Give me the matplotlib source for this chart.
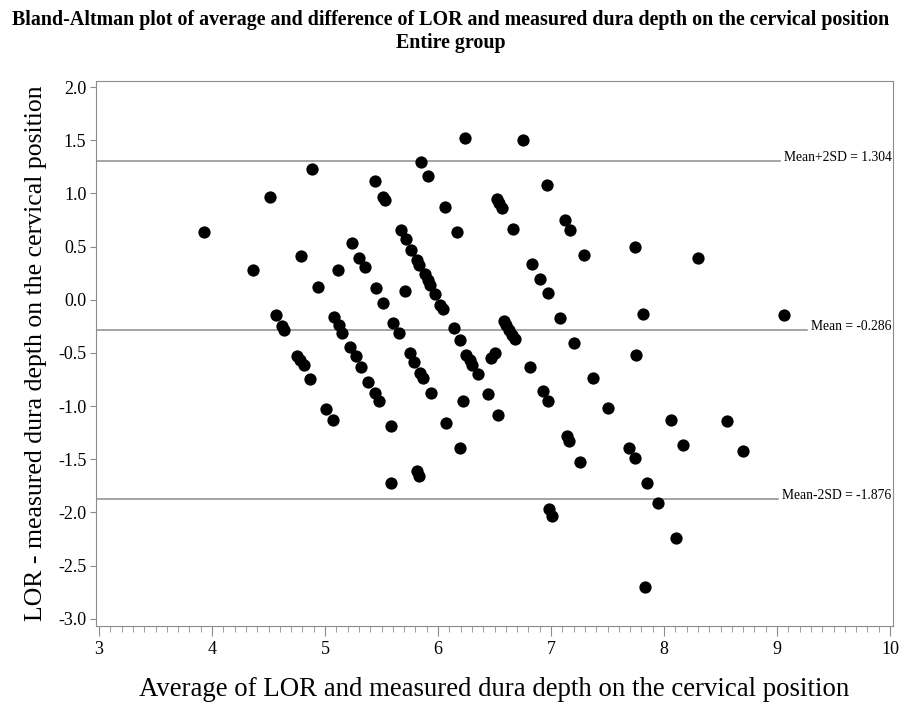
import matplotlib
matplotlib.use("Agg")
import matplotlib.pyplot as plt
from matplotlib.ticker import MultipleLocator

# average of LOR and measured depth (x) and difference (y)
avg = [3.93, 4.36, 4.51, 4.57, 4.62, 4.64, 4.75, 4.78, 4.81, 4.79,
       4.88, 4.87, 4.94, 5.01, 5.07, 5.11, 5.08, 5.12, 5.15, 5.22,
       5.27, 5.32, 5.38, 5.44, 5.48, 5.24, 5.30, 5.35, 5.44, 5.51,
       5.53, 5.45, 5.51, 5.60, 5.65, 5.58, 5.58, 5.67, 5.72, 5.76,
       5.81, 5.83, 5.88, 5.91, 5.93, 5.97, 6.02, 6.04, 5.71, 5.85,
       5.91, 6.06, 6.17, 6.14, 6.19, 5.75, 5.79, 5.84, 5.87, 5.94,
       5.81, 5.83, 6.24, 6.25, 6.28, 6.30, 6.35, 6.22, 6.07, 6.19,
       6.47, 6.50, 6.44, 6.53, 6.52, 6.54, 6.57, 6.66, 6.75, 6.58,
       6.60, 6.63, 6.65, 6.68, 6.81, 6.83, 6.90, 6.97, 6.96, 6.93,
       6.97, 6.98, 7.01, 7.08, 7.12, 7.17, 7.20, 7.14, 7.16, 7.26,
       7.29, 7.37, 7.50, 7.69, 7.74, 7.74, 7.75, 7.81, 7.85, 7.83,
       7.95, 8.06, 8.11, 8.17, 8.30, 8.56, 8.70, 9.06]
diff = [0.64, 0.28, 0.97, -0.14, -0.25, -0.28, -0.53, -0.57, -0.61, 0.41,
        1.23, -0.75, 0.12, -1.03, -1.13, 0.28, -0.16, -0.24, -0.31, -0.44,
        -0.53, -0.63, -0.77, -0.88, -0.95, 0.53, 0.39, 0.31, 1.12, 0.97,
        0.94, 0.11, -0.03, -0.22, -0.31, -1.19, -1.72, 0.66, 0.57, 0.47,
        0.37, 0.33, 0.24, 0.19, 0.14, 0.05, -0.05, -0.09, 0.08, 1.30,
        1.16, 0.87, 0.64, -0.27, -0.38, -0.50, -0.59, -0.69, -0.74, -0.88,
        -1.61, -1.66, 1.52, -0.52, -0.57, -0.61, -0.70, -0.95, -1.16, -1.39,
        -0.55, -0.50, -0.89, -1.08, 0.95, 0.91, 0.86, 0.67, 1.50, -0.20,
        -0.24, -0.28, -0.33, -0.37, -0.63, 0.34, 0.20, 0.06, 1.08, -0.86,
        -0.95, -1.97, -2.03, -0.17, 0.75, 0.66, -0.41, -1.28, -1.33, -1.53,
        0.42, -0.74, -1.02, -1.39, -1.49, 0.50, -0.52, -0.13, -1.72, -2.70,
        -1.91, -1.13, -2.24, -1.37, 0.39, -1.14, -1.42, -0.14]

ref_lines = [1.304, -0.286, -1.876]
ref_labels = ["Mean+2SD = 1.304", "Mean = -0.286", "Mean-2SD = -1.876"]

plt.rcParams["font.family"] = ["Liberation Serif", "DejaVu Serif"]
grey = "#8c8c8c"

fig = plt.figure(figsize=(9.01, 7.09), dpi=100)
ax = fig.add_axes([0.1066, 0.1175, 0.8846, 0.7687])

ax.scatter(avg, diff, s=78, color="black", linewidths=0, zorder=3)

ax.set_xlim(2.973, 10.027)
ax.set_ylim(-3.066, 2.061)
ax.xaxis.set_major_locator(MultipleLocator(1))
ax.xaxis.set_minor_locator(MultipleLocator(0.1))
ax.yaxis.set_major_locator(MultipleLocator(0.5))
ax.yaxis.set_major_formatter(plt.FuncFormatter(lambda v, p: f"{v:.1f}"))

for s in ax.spines.values():
    s.set_color(grey)
ax.tick_params(axis="x", which="major", length=7, color=grey, labelsize=13, pad=4)
ax.tick_params(axis="x", which="minor", length=4, color=grey)
ax.tick_params(axis="y", which="major", length=4, color=grey, labelsize=13, pad=3)

ax.set_xlabel("Average of LOR and measured dura depth on the cervical position",
              fontsize=19.3, labelpad=14)
ax.set_ylabel("LOR - measured dura depth on the cervical position",
              fontsize=18.5, labelpad=8)

fig.text(0.5, 0.972, "Bland-Altman plot of average and difference of LOR and measured dura depth on the cervical position",
         ha="center", va="center", fontsize=14.4, fontweight="bold")
fig.text(0.5, 0.940, "Entire group", ha="center", va="center",
         fontsize=14.4, fontweight="bold")

# reference lines run up to their labels
texts = []
for yv, lab in zip(ref_lines, ref_labels):
    t = ax.text(0.998, yv, lab, transform=ax.get_yaxis_transform(),
                ha="right", va="baseline", fontsize=9.8)
    texts.append(t)
fig.canvas.draw()
r = fig.canvas.get_renderer()
for yv, t in zip(ref_lines, texts):
    bb = t.get_window_extent(r)
    x_end = ax.transAxes.inverted().transform((bb.x0 - 4, 0))[0]
    ax.plot([0, x_end], [yv, yv], transform=ax.get_yaxis_transform(),
            color=grey, lw=1.1, zorder=2)

fig.savefig("out.png", dpi=100)
